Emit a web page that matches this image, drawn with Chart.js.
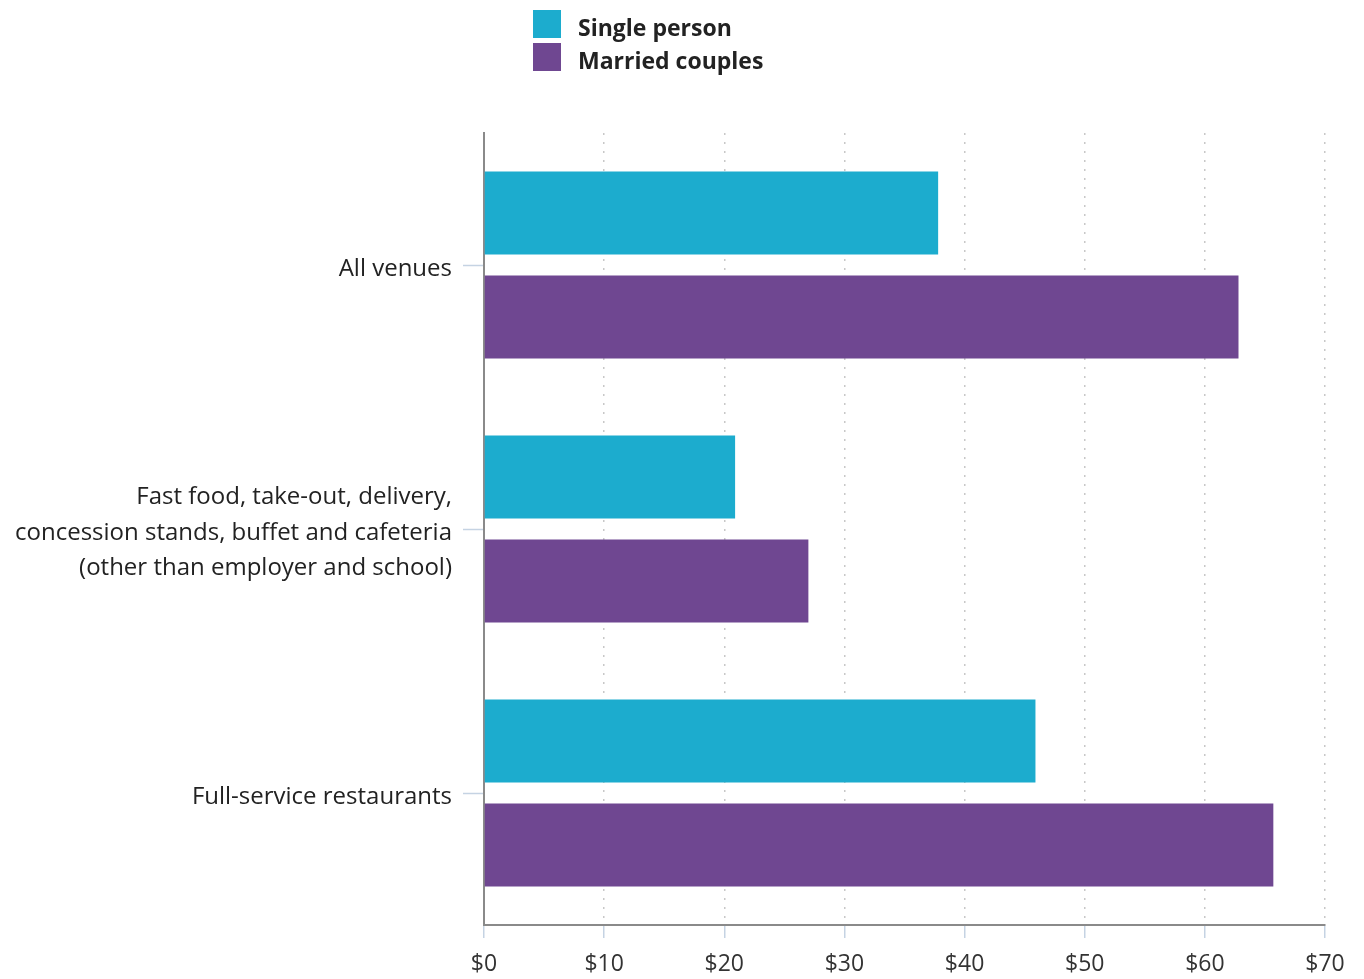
<!DOCTYPE html>
<html>
<head>
<meta charset="utf-8">
<script src="https://cdn.jsdelivr.net/npm/chart.js@4"></script>
<style>
  body { margin: 0; background: #fff; font-family: "Open Sans", sans-serif; }
  #wrap { position: relative; width: 1364px; height: 979px; }
  #legend { position: absolute; left: 533px; top: 10px; }
  .item { display: flex; align-items: center; height: 28px; margin-bottom: 5px; }
  .box { width: 28px; height: 28px; margin-right: 17px; }
  .item span { font-weight: bold; font-size: 23px; color: #222; padding-top: 5px; }
</style>
</head>
<body>
<div id="wrap">
  <canvas id="bar-chart" width="1364" height="979"></canvas>
  <div id="legend"></div>
</div>
<script>
'use strict';
// average spend per visit, by household type
const categories = [
  'All venues',
  ['Fast food, take-out, delivery,', 'concession stands, buffet and cafeteria', '(other than employer and school)'],
  'Full-service restaurants'
];
const singlePerson = [37.8, 20.9, 45.9];
const marriedCouples = [62.8, 27.0, 65.7];
const seriesNames = ['Single person', 'Married couples'];
const seriesColors = ['#1cacce', '#6f4791'];

const font = { family: '"Open Sans", sans-serif', size: 24 };

const chart = new Chart(document.getElementById('bar-chart'), {
  type: 'bar',
  data: {
    labels: categories,
    datasets: [
      { label: seriesNames[0], data: singlePerson, backgroundColor: seriesColors[0] },
      { label: seriesNames[1], data: marriedCouples, backgroundColor: seriesColors[1] }
    ]
  },
  options: {
    indexAxis: 'y',
    responsive: false,
    animation: false,
    categoryPercentage: 0.788,
    barPercentage: 0.8,
    layout: { padding: { top: 133, right: 39, bottom: 0, left: 0 } },
    plugins: {
      legend: { display: false },
      tooltip: { enabled: false }
    },
    scales: {
      x: {
        min: 0,
        max: 70,
        ticks: {
          stepSize: 10,
          color: '#333',
          font: Object.assign({}, font, { size: 23 }),
          padding: 13,
          callback: v => '$' + v
        },
        grid: {
          color: '#c8c8c8',
          lineWidth: 1.5,
          tickColor: '#c5d3e3',
          tickLength: 13,
          tickWidth: 1.5
        },
        border: { color: '#8a8a8a', width: 2, dash: [2, 7] },
        afterFit: s => { s.height = 54; }
      },
      y: {
        ticks: {
          color: '#222',
          font: Object.assign({}, font, { lineHeight: 1.48 }),
          padding: 11,
          labelOffset: 4
        },
        grid: {
          offset: false,
          drawOnChartArea: false,
          tickColor: '#c5d3e3',
          tickLength: 21,
          tickWidth: 1.5
        },
        border: { color: '#8a8a8a', width: 2 },
        afterFit: s => { s.width = 484; }
      }
    }
  }
});

// legend stacked in a column above the plot
const legend = document.getElementById('legend');
chart.data.datasets.forEach(ds => {
  const item = document.createElement('div');
  item.className = 'item';
  item.innerHTML = '<div class="box" style="background:' + ds.backgroundColor + '"></div><span>' + ds.label + '</span>';
  legend.appendChild(item);
});
</script>
</body>
</html>
